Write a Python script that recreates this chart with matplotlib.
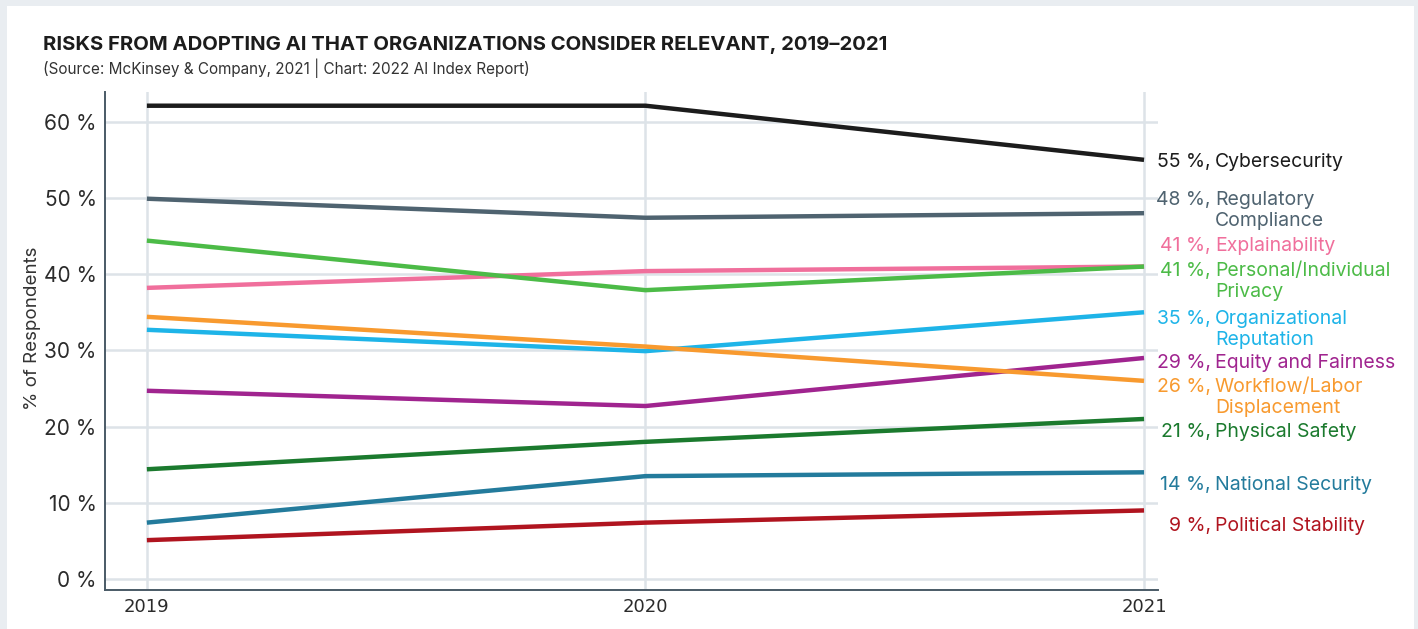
import matplotlib.pyplot as plt
from matplotlib.patches import Rectangle

years = [2019, 2020, 2021]
risks = ['Cybersecurity', 'Regulatory\nCompliance', 'Explainability',
         'Personal/Individual\nPrivacy', 'Organizational\nReputation',
         'Equity and Fairness', 'Workflow/Labor\nDisplacement',
         'Physical Safety', 'National Security', 'Political Stability']
cybersecurity = [62.1, 62.1, 55]
regulatory = [49.9, 47.4, 48]
explainability = [38.2, 40.4, 41]
privacy = [44.4, 37.9, 41]
reputation = [32.7, 29.9, 35]
equity = [24.7, 22.7, 29]
workflow = [34.4, 30.5, 26]
physical = [14.4, 18.0, 21]
national = [7.4, 13.5, 14]
political = [5.1, 7.4, 9]
series = [cybersecurity, regulatory, explainability, privacy, reputation,
          equity, workflow, physical, national, political]

colors = ['#1c1c1c', '#4f6370', '#f06f9c', '#4cbb47', '#1eb4e8',
          '#a0248f', '#f89a2f', '#1b7a2e', '#237b9c', '#b0141f']
# label anchor heights (in data units) so the end labels don't collide
label_y = [54.7, 49.7, 43.7, 40.4, 34.1, 28.3, 25.2, 19.3, 12.3, 7.0]

plt.rcParams['font.family'] = ['Inter', 'DejaVu Sans']

fig = plt.figure(figsize=(14.18, 6.29), dpi=100)
fig.patch.set_facecolor('#e9edf1')
fig.patches.append(Rectangle((7/1418, 0), 1407/1418, 623/629, transform=fig.transFigure,
                             facecolor='white', edgecolor='none', zorder=-5))

ax = fig.add_axes([105/1418, 39/629, 1053/1418, 498/629])
ax.set_facecolor('white')

for vals, c in zip(series, colors):
    ax.plot(years, vals, color=c, lw=3.2, solid_capstyle='butt', zorder=3)

ax.set_xlim(2018.916, 2021.028)
ax.set_ylim(-1.44, 63.9)
ax.set_yticks(range(0, 61, 10))
ax.set_yticklabels([f'{v} %' for v in range(0, 61, 10)])
ax.set_xticks(years)
ax.set_xticklabels([str(y) for y in years], family=['Liberation Sans Narrow', 'DejaVu Sans'])
ax.grid(True, color='#dde3e8', lw=1.8, zorder=0)
ax.tick_params(axis='y', length=0, labelsize=15, colors='#2b2b2b', pad=6)
ax.tick_params(axis='x', length=0, labelsize=13, colors='#2b2b2b', pad=6)
for s in ['top', 'right']:
    ax.spines[s].set_visible(False)
for s in ['left', 'bottom']:
    ax.spines[s].set_color('#4a5a66')
    ax.spines[s].set_linewidth(1.4)
ax.set_ylabel('% of Respondents', fontsize=13.5, color='#333333')
ax.yaxis.set_label_coords(-0.061, 0.525)

# end-of-line labels: value right aligned, name left aligned, wrapped names indented
for vals, name, c, ly in zip(series, risks, colors, label_y):
    ax.annotate(f'{vals[-1]:.0f} %,', xy=(1, ly), xycoords=('axes fraction', 'data'),
                xytext=(38, 0), textcoords='offset points', ha='right', va='center',
                fontsize=14, color=c, annotation_clip=False)
    for i, part in enumerate(name.split('\n')):
        ax.annotate(part, xy=(1, ly), xycoords=('axes fraction', 'data'),
                    xytext=(41, -15.1 * i), textcoords='offset points', ha='left', va='center',
                    fontsize=14, color=c, annotation_clip=False)

fig.text(43/1418, 1 - 45/629, 'RISKS FROM ADOPTING AI THAT ORGANIZATIONS CONSIDER RELEVANT, 2019–2021',
         fontsize=14.6, fontweight='bold', color='#1c1c1c', va='center')
fig.text(43/1418, 1 - 68/629, '(Source: McKinsey & Company, 2021 | Chart: 2022 AI Index Report)',
         fontsize=11, color='#333333', va='center')

fig.savefig('out.png', dpi=100)
